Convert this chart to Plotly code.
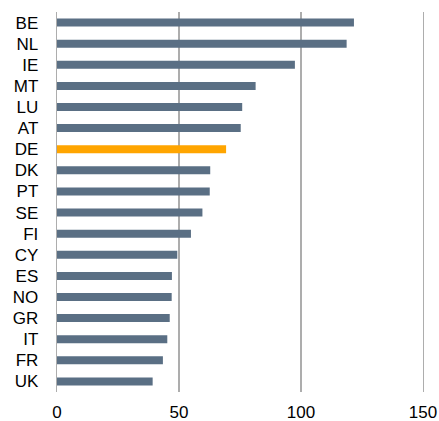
import plotly.graph_objects as go

countries = ["BE", "NL", "IE", "MT", "LU", "AT", "DE", "DK", "PT", "SE",
             "FI", "CY", "ES", "NO", "GR", "IT", "FR", "UK"]
values = [121.7, 118.7, 97.5, 81.4, 75.9, 75.3, 69.3, 62.8, 62.6, 59.6,
          54.9, 49.3, 47.1, 47.0, 46.2, 45.2, 43.4, 39.2]
highlight = "DE"
x_ticks = [0, 50, 100, 150]

colors = ["#ffa500" if c == highlight else "#5a6f84" for c in countries]

fig = go.Figure(go.Bar(
    y=countries, x=values, orientation="h",
    marker=dict(color=colors, line=dict(width=0)),
    width=0.38, hoverinfo="skip",
))

fig.update_layout(
    width=439, height=421,
    margin=dict(l=57, r=16, t=12, b=29),
    paper_bgcolor="white", plot_bgcolor="white",
    font=dict(family="Liberation Sans, Arial, sans-serif", size=17, color="#000000"),
    showlegend=False,
    bargap=0.62,
)
fig.update_xaxes(
    range=[0, 150], tickvals=x_ticks, showgrid=True, gridcolor="#adadad",
    gridwidth=1.3, zeroline=False, showline=False, ticks="",
    ticklabelstandoff=8, tickfont=dict(size=17), automargin=False,
)
fig.update_yaxes(
    categoryorder="array", categoryarray=countries[::-1],
    range=[-0.5, len(countries) - 0.5],
    showgrid=False, zeroline=False, showline=True, mirror=True,
    linecolor="#adadad", linewidth=1.3,
    ticks="", ticklabelstandoff=14, tickfont=dict(size=17), automargin=False,
)

fig.write_html(
    "out.html",
    config={"displayModeBar": False, "staticPlot": True},
    post_script="document.body.style.margin='0';document.body.style.overflow='hidden';",
)
